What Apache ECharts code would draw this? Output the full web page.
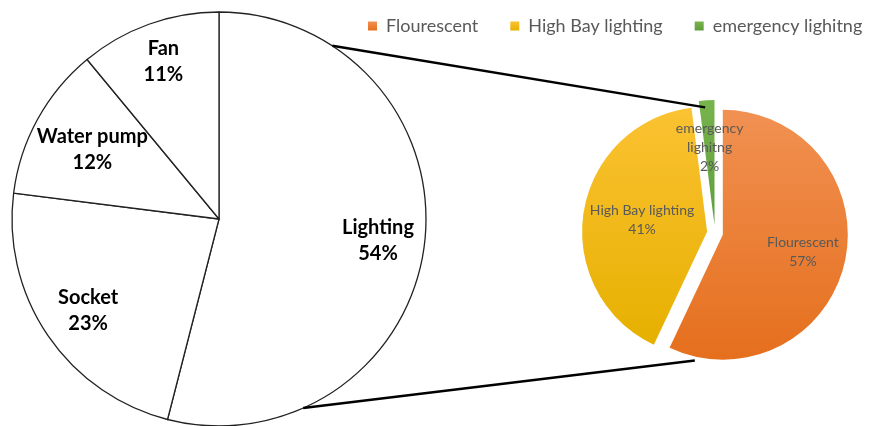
<!DOCTYPE html>
<html>
<head>
<meta charset="utf-8">
<script src="https://cdn.jsdelivr.net/npm/echarts@6/dist/echarts.min.js"></script>
<style>
html,body{margin:0;padding:0;background:#fff;}
#chart{width:869px;height:426px;}
</style>
</head>
<body>
<div id="chart"></div>
<script>
// ---- data ----
const mainCategories = ['Lighting', 'Socket', 'Water pump', 'Fan'];
const mainValues = [54, 23, 12, 11];
const subCategories = ['Flourescent', 'High Bay lighting', 'emergency lighitng'];
const subValues = [57, 41, 2];
const subLabelNames = ['Flourescent', 'High Bay lighting', 'emergency\nlighitng'];

// ---- layout ----
const LEFT_C = [219, 219], LEFT_R = 207;
const RIGHT_C = [715, 233], RIGHT_R = 125, EXPLODE = 8;
const FONT = 'Lato, "Open Sans", sans-serif';
// small label nudges (px) to mimic the original placement
const mainLabelNudge = [[2, 2], [0, 3], [12, 7], [-2, -9]];
const subLabelNudge = [[4, 0], [12, 0], [0, 0]];

const subColors = [
  new echarts.graphic.LinearGradient(0, 0, 0, 1, [{offset: 0, color: '#F19152'}, {offset: 1, color: '#E56F1D'}]),
  new echarts.graphic.LinearGradient(0, 0, 0, 1, [{offset: 0, color: '#FBC232'}, {offset: 1, color: '#E6B000'}]),
  new echarts.graphic.LinearGradient(0, 0, 0, 1, [{offset: 0, color: '#78B44C'}, {offset: 1, color: '#5E9E3B'}])
];

function polar(c, r, deg) {
  const a = deg * Math.PI / 180;
  return [c[0] + r * Math.sin(a), c[1] - r * Math.cos(a)];
}

const l1 = polar(LEFT_C, LEFT_R, 33.2), l2 = polar(LEFT_C, LEFT_R, 156);
const r1 = polar(RIGHT_C, RIGHT_R + 1, -4.5), r2 = polar(RIGHT_C, RIGHT_R + 4, 189);

const chart = echarts.init(document.getElementById('chart'), null, {renderer: 'canvas'});
chart.setOption({
  animation: false,
  backgroundColor: '#fff',
  legend: {
    data: subCategories,
    left: 363, top: 12, width: 500,
    icon: 'rect', itemWidth: 9, itemHeight: 9, itemGap: 32,
    textStyle: {color: '#595959', fontSize: 18, fontFamily: FONT, padding: [0, 0, 0, 4]}
  },
  graphic: [
    {type: 'line', z: 10, shape: {x1: l1[0], y1: l1[1], x2: r1[0], y2: r1[1]}, style: {stroke: '#000', lineWidth: 2.5}},
    {type: 'line', z: 10, shape: {x1: l2[0], y1: l2[1], x2: r2[0], y2: r2[1]}, style: {stroke: '#000', lineWidth: 2.5}}
  ],
  series: [
    {
      type: 'pie', center: LEFT_C, radius: [0, LEFT_R], startAngle: 90, clockwise: true,
      silent: true, legendHoverLink: false,
      itemStyle: {color: '#fff', borderColor: '#222', borderWidth: 1.3},
      label: {show: false}, labelLine: {show: false},
      data: mainCategories.map((n, i) => ({name: n, value: mainValues[i]}))
    },
    {
      type: 'pie', center: LEFT_C, radius: [LEFT_R * 0.5, LEFT_R], startAngle: 90, clockwise: true,
      silent: true,
      itemStyle: {color: 'rgba(0,0,0,0)', borderWidth: 0},
      label: {show: true, position: 'inside', formatter: '{b}\n{d}%', color: '#000',
              fontWeight: 'bold', fontSize: 20, lineHeight: 26, fontFamily: FONT},
      labelLine: {show: false},
      labelLayout: p => ({dx: mainLabelNudge[p.dataIndex][0], dy: mainLabelNudge[p.dataIndex][1]}),
      data: mainCategories.map((n, i) => ({name: n, value: mainValues[i]}))
    },
    {
      type: 'pie', center: RIGHT_C, radius: [0, RIGHT_R], startAngle: 90, clockwise: true,
      selectedMode: 'multiple', selectedOffset: EXPLODE, silent: true,
      label: {show: false}, labelLine: {show: false},
      data: subCategories.map((n, i) => ({name: n, value: subValues[i], selected: true, itemStyle: {color: subColors[i]}}))
    },
    {
      type: 'pie', center: RIGHT_C, radius: [RIGHT_R * 0.2, RIGHT_R], startAngle: 90, clockwise: true,
      selectedMode: 'multiple', selectedOffset: EXPLODE, silent: true,
      itemStyle: {color: 'rgba(0,0,0,0)', borderWidth: 0},
      label: {show: true, position: 'inside', color: '#595959', fontSize: 14, lineHeight: 19, fontFamily: FONT,
              formatter: p => subLabelNames[p.dataIndex] + '\n' + p.percent.toFixed(0) + '%'},
      labelLine: {show: false},
      labelLayout: p => ({dx: subLabelNudge[p.dataIndex][0], dy: subLabelNudge[p.dataIndex][1]}),
      data: subCategories.map((n, i) => ({name: n, value: subValues[i], selected: true}))
    }
  ]
});
</script>
</body>
</html>
